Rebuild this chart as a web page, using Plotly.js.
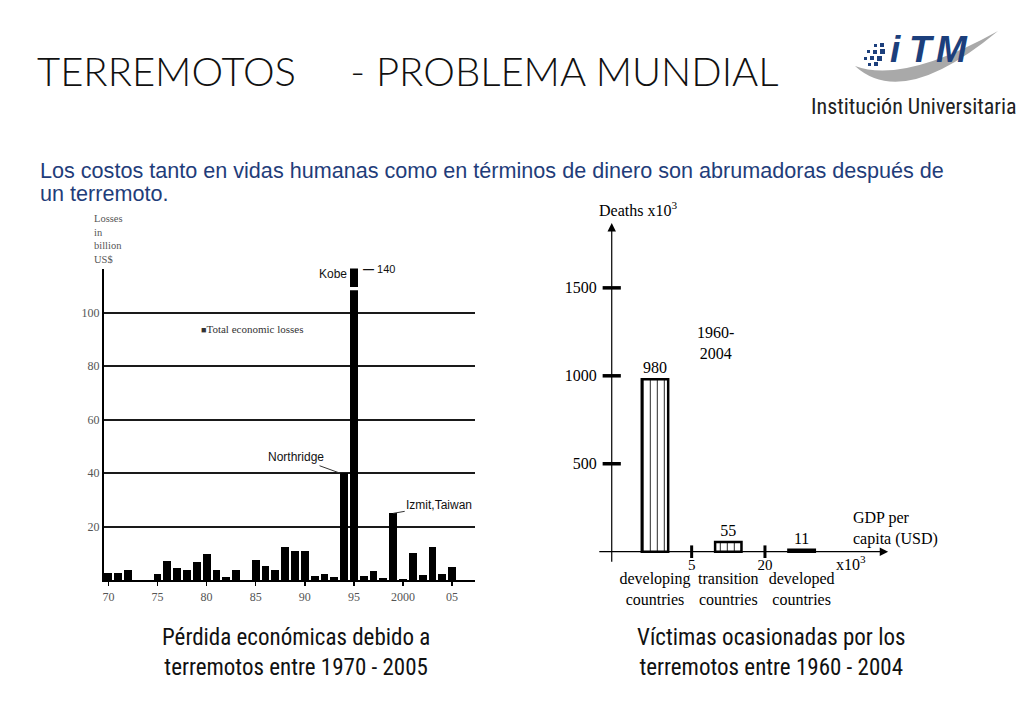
<!DOCTYPE html>
<html>
<head>
<meta charset="utf-8">
<script src="https://cdn.plot.ly/plotly-3.0.1.min.js"></script>
<style>html,body{margin:0;padding:0;background:#fff;}#chart{width:1024px;height:724px;}</style>
</head>
<body>
<div id="chart"></div>
<script>
// ---------- data: economic losses (billion US$) ----------
const lossYears = [1970,1971,1972,1973,1974,1975,1976,1977,1978,1979,1980,1981,1982,1983,1984,1985,1986,1987,1988,1989,1990,1991,1992,1993,1994,1995,1996,1997,1998,1999,2000,2001,2002,2003,2004,2005];
const losses    = [2.8,2.6,3.8,null,null,2.2,7.3,4.4,3.7,6.8,9.8,3.9,1.1,3.7,null,7.7,5.2,4.0,12.4,11.1,10.9,1.7,2.2,1.2,40,140,1.4,3.5,0.9,25,0.5,10.3,2.0,12.4,2.4,4.9];
const lossTickVals  = [1970,1975,1980,1985,1990,1995,2000,2005];
const lossTickText  = ['70','75','80','85','90','95','2000','05'];
const lossYTicks    = [20,40,60,80,100];
const lossSeriesName = 'Total economic losses';
const kobe = {year:1995, value:140, label:'Kobe'};
const northridge = {year:1994, value:40, label:'Northridge'};
const izmit = {year:1999, value:25, label:'Izmit,Taiwan'};

// ---------- data: deaths (x10^3) by country group, 1960-2004 ----------
const groups = ['developing<br>countries','transition<br>countries','developed<br>countries'];
const deaths = [980, 55, 11];
const deathTicks = [500, 1000, 1500];
const gdpBoundaries = ['5', '20'];   // GDP per capita limits (x10^3 USD)

// ---------- helpers (page pixel -> paper) ----------
const W = 1024, H = 724;
const fx = p => p / W;
const fy = p => 1 - p / H;
const serif = 'Liberation Serif, Times New Roman, serif';
const sans = 'Liberation Sans, Arial, sans-serif';
const narrow = 'Liberation Sans Narrow, Arial Narrow, Roboto Condensed, sans-serif';

const groupIdx = groups.map((g, i) => i);
const yAxisX = -0.59;

const traces = [
  {
    type: 'bar', x: lossYears, y: losses, name: lossSeriesName,
    xaxis: 'x', yaxis: 'y', width: 0.8,
    marker: {color: '#000', line: {width: 0}},
    showlegend: false, hoverinfo: 'x+y'
  },
  {
    type: 'bar', x: groupIdx, y: deaths, xaxis: 'x2', yaxis: 'y2', width: 0.36,
    text: deaths.map(String), textposition: 'outside', cliponaxis: false,
    textfont: {family: serif, size: 16, color: '#000'},
    marker: {color: '#fff', line: {color: '#000', width: 2.5},
             pattern: {shape: '|', fgcolor: '#000', bgcolor: '#fff', size: 7, solidity: 0.12}},
    showlegend: false
  },
  { // y tick marks of the deaths axis
    type: 'scatter', mode: 'markers', x: deathTicks.map(() => yAxisX), y: deathTicks,
    xaxis: 'x2', yaxis: 'y2', cliponaxis: false, showlegend: false, hoverinfo: 'skip',
    marker: {symbol: 'line-ew', size: 13, line: {width: 3.5, color: '#000'}}
  },
  { // GDP boundaries on x axis
    type: 'scatter', mode: 'markers+text', x: gdpBoundaries.map((b, i) => i + 0.5), y: gdpBoundaries.map(() => 0),
    text: gdpBoundaries, textposition: 'bottom center',
    textfont: {family: serif, size: 15, color: '#000'},
    xaxis: 'x2', yaxis: 'y2', cliponaxis: false, showlegend: false, hoverinfo: 'skip',
    marker: {symbol: 'line-ns', size: 9, line: {width: 3, color: '#000'}}
  }
];

// logo decoration (page pixels: x, y, size)
const logoDots = [[874,44,3],[880,43,4],[867,50,3],[873,50,4],[880,49,5],[864,57,3],[870,56,4],[877,56,5],[868,63,3],[874,62,4]];
const P = (x, y) => fx(x) + ',' + fy(y);
const shapes = [
  // axis break on the Kobe bar
  {type: 'rect', xref: 'x', yref: 'y', x0: kobe.year - 0.5, x1: kobe.year + 0.5, y0: 108.4, y1: 109.6,
   fillcolor: '#fff', line: {width: 0}, layer: 'above'},
  // logo swoosh
  {type: 'path', xref: 'paper', yref: 'paper', fillcolor: '#a9a9a9', line: {width: 0}, layer: 'below',
   path: 'M ' + P(855, 66) + ' Q ' + P(903, 110) + ' ' + P(998, 31) + ' Q ' + P(903, 84) + ' ' + P(855, 66) + ' Z'}
].concat(logoDots.map(d => ({type: 'rect', xref: 'paper', yref: 'paper',
   x0: fx(d[0]), x1: fx(d[0] + d[2]), y0: fy(d[1] + d[2]), y1: fy(d[1]), fillcolor: '#1c3f7c', line: {width: 0}})));

const logoLetters = [['i', 895], ['T', 922], ['M', 952]];

const annotations = [
  {xref: 'paper', yref: 'paper', x: fx(38), y: fy(170), xanchor: 'left', yanchor: 'middle', showarrow: false,
   text: 'Los costos tanto en vidas humanas como en términos de dinero son abrumadoras después de',
   font: {family: sans, size: 21.6, color: '#1f3d7a'}},
  {xref: 'paper', yref: 'paper', x: fx(38), y: fy(193), xanchor: 'left', yanchor: 'middle', showarrow: false,
   text: 'un terremoto.', font: {family: sans, size: 21.6, color: '#1f3d7a'}},
  {xref: 'paper', yref: 'paper', x: fx(296), y: fy(652), xanchor: 'center', yanchor: 'middle', showarrow: false,
   text: 'Pérdida económicas debido a<br>terremotos entre 1970 - 2005', font: {family: narrow, size: 23, color: '#111'}},
  {xref: 'paper', yref: 'paper', x: fx(771), y: fy(652), xanchor: 'center', yanchor: 'middle', showarrow: false,
   text: 'Víctimas ocasionadas por los<br>terremotos entre 1960 - 2004', font: {family: narrow, size: 23, color: '#111'}},
  {xref: 'paper', yref: 'paper', x: fx(914), y: fy(107), xanchor: 'center', yanchor: 'middle', showarrow: false,
   text: 'Institución Universitaria', font: {family: narrow, size: 22, color: '#222'}},
  // left chart labels
  {xref: 'paper', yref: 'paper', x: fx(92), y: fy(211), xanchor: 'left', yanchor: 'top', align: 'left', showarrow: false,
   text: 'Losses<br>in<br>billion<br>US$', font: {family: serif, size: 10.5, color: '#555'}},
  {xref: 'paper', yref: 'paper', x: fx(199), y: fy(329), xanchor: 'left', yanchor: 'middle', showarrow: false,
   text: '<span style="font-size:9px">■</span>' + lossSeriesName, font: {family: serif, size: 11, color: '#333'}},
  {xref: 'x', yref: 'y', x: kobe.year - 0.55, y: 114.5, xanchor: 'right', yanchor: 'middle', showarrow: false,
   text: kobe.label, font: {family: sans, size: 12, color: '#111'}},
  {xref: 'x', yref: 'y', x: kobe.year + 0.7, y: 116.2, xanchor: 'left', yanchor: 'middle', showarrow: false,
   text: '<b>—</b> ' + kobe.value, font: {family: sans, size: 11, color: '#111'}},
  {xref: 'x', yref: 'y', x: northridge.year - 0.4, y: northridge.value, ax: -44, ay: -16, showarrow: true,
   arrowhead: 0, arrowwidth: 1, arrowcolor: '#333', standoff: 0,
   text: northridge.label, font: {family: sans, size: 12, color: '#111'}},
  {xref: 'x', yref: 'y', x: izmit.year, y: izmit.value, ax: 46, ay: -8, showarrow: true,
   arrowhead: 0, arrowwidth: 1, arrowcolor: '#333', standoff: 0,
   text: izmit.label, font: {family: sans, size: 12, color: '#111'}},
  // right chart axes (arrows)
  {xref: 'x2', yref: 'y2', axref: 'x2', ayref: 'y2', x: yAxisX, y: 1868, ax: yAxisX, ay: -65, text: '',
   showarrow: true, arrowhead: 2, arrowsize: 1.4, arrowwidth: 1.2, arrowcolor: '#000', standoff: 0},
  {xref: 'x2', yref: 'y2', axref: 'x2', ayref: 'y2', x: 3.18, y: 0, ax: -0.78, ay: 0, text: '',
   showarrow: true, arrowhead: 2, arrowsize: 1.4, arrowwidth: 1.2, arrowcolor: '#000', standoff: 0},
  {xref: 'paper', yref: 'paper', x: fx(597), y: fy(209), xanchor: 'left', yanchor: 'middle', showarrow: false,
   text: 'Deaths x10<sup>3</sup>', font: {family: serif, size: 16, color: '#000'}},
  {xref: 'paper', yref: 'paper', x: fx(715), y: fy(343), xanchor: 'center', yanchor: 'middle', showarrow: false,
   text: '1960-<br>2004', font: {family: serif, size: 16, color: '#000'}},
  {xref: 'paper', yref: 'paper', x: fx(851), y: fy(528), xanchor: 'left', yanchor: 'middle', align: 'left', showarrow: false,
   text: 'GDP per<br>capita (USD)', font: {family: serif, size: 16, color: '#000'}},
  {xref: 'paper', yref: 'paper', x: fx(834), y: fy(563), xanchor: 'left', yanchor: 'middle', showarrow: false,
   text: 'x10<sup>3</sup>', font: {family: serif, size: 16, color: '#000'}}
].concat(logoLetters.map(l => ({xref: 'paper', yref: 'paper', x: fx(l[1]), y: fy(50), xanchor: 'center', yanchor: 'middle',
   showarrow: false, text: '<b><i>' + l[0] + '</i></b>', font: {family: sans, size: 37, color: '#1c3f7c'}})));

const layout = {
  width: W, height: H, autosize: false,
  margin: {l: 0, r: 0, t: 0, b: 0},
  paper_bgcolor: '#fff', plot_bgcolor: 'rgba(0,0,0,0)',
  bargap: 0,
  title: {text: 'TERREMOTOS\u00A0\u00A0\u00A0\u00A0 - PROBLEMA MUNDIAL', xref: 'paper', yref: 'paper',
          x: fx(37), y: fy(72), xanchor: 'left', yanchor: 'middle',
          font: {family: 'Lato, Open Sans, sans-serif', weight: 300, size: 40, color: '#111'}},
  showlegend: false,
  xaxis: {domain: [fx(104), fx(474.7)], range: [1969.55, 2007.3], anchor: 'y',
          tickvals: lossTickVals, ticktext: lossTickText, ticks: 'outside', ticklen: 4, tickwidth: 1.5, tickcolor: '#000',
          tickfont: {family: serif, size: 12, color: '#555'},
          showline: true, linecolor: '#000', linewidth: 2, showgrid: false, zeroline: false, fixedrange: true},
  yaxis: {domain: [fy(580.2), fy(268.6)], range: [0, 116.5], anchor: 'x',
          tickvals: lossYTicks, ticks: '', tickfont: {family: serif, size: 12, color: '#555'},
          showline: true, linecolor: '#000', linewidth: 2,
          showgrid: true, gridcolor: '#1a1a1a', gridwidth: 1.6, zeroline: false, fixedrange: true},
  xaxis2: {domain: [fx(597.8), fx(889.6)], range: [-0.78, 3.2], anchor: 'y2',
           tickvals: groupIdx, ticktext: groups, ticks: '', ticklabelstandoff: 2,
           tickfont: {family: serif, size: 16, color: '#000'},
           showline: false, showgrid: false, zeroline: false, fixedrange: true},
  yaxis2: {domain: [fy(564.9), fy(221.0)], range: [-75, 1880], anchor: 'x2',
           tickvals: deathTicks, ticks: '', tickfont: {family: serif, size: 16, color: '#000'},
           showline: false, showgrid: false, zeroline: false, fixedrange: true},
  shapes: shapes,
  annotations: annotations
};

Plotly.newPlot('chart', traces, layout, {displayModeBar: false, staticPlot: true});
</script>
</body>
</html>
